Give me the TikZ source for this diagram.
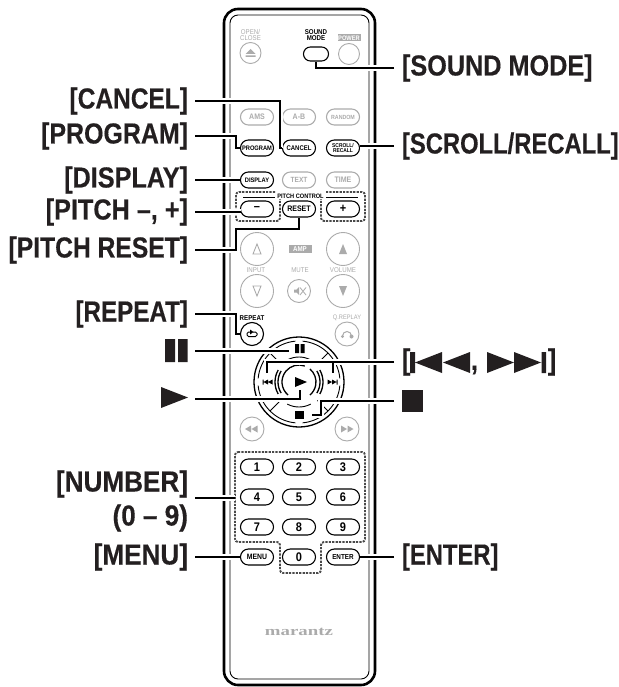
\documentclass[tikz,border=0pt]{standalone}
\usepackage{fontspec}
\setmainfont{Liberation Sans}
\newfontfamily\btnfont[FakeStretch=0.88]{Liberation Sans}
\newfontfamily\logofont[FakeStretch=1.45]{Liberation Serif}
\definecolor{soft}{HTML}{ABABAB}
\definecolor{ink}{HTML}{231F20}
\definecolor{dots}{HTML}{4A4A4A}
\newcommand\fs[1]{\fontsize{#1}{#1}\selectfont}
\newcommand\lf[1]{\fontspec[FakeStretch=#1,FakeBold=0.35]{Liberation Sans}\bfseries\fs{29}}
\tikzset{
  lblL/.style={anchor=east,inner sep=0pt,outer xsep=7pt,text=ink,align=right},
  lblR/.style={anchor=west,inner sep=0pt,outer xsep=8pt,text=ink},
  pill/.style={draw,line width=1.1pt,rounded corners=7.9pt,minimum width=33pt,minimum height=16pt,inner sep=0pt,fill=white,align=center},
  bk/.style={pill,draw=black,text=black,font=\btnfont\bfseries\fs{6.8}},
  dig/.style={pill,draw=black,text=black,font=\btnfont\bfseries\fs{12.5}},
  gr/.style={pill,draw=soft,text=soft,font=\btnfont\bfseries\fs{8}},
  grc/.style={circle,draw=soft,line width=.9pt,inner sep=0pt,fill=white},
  bkc/.style={circle,draw=black,line width=1.1pt,inner sep=0pt,fill=white},
  captxt/.style={inner sep=0pt,text=soft,font=\btnfont\fs{7},align=center},
  captxtb/.style={inner sep=0pt,text=black,font=\btnfont\bfseries\fs{7},align=center,text depth=0pt},
  graytag/.style={fill=soft,text=white,inner sep=0pt,minimum width=23pt,minimum height=7pt,font=\btnfont\bfseries\fs{6.5}},
  leader/.style={draw=black,line width=2.3pt,preaction={draw=white,line width=5.5pt}},
  dotline/.style={draw=dots,line width=1.9pt,dash pattern=on 2.2pt off 1.2pt,rounded corners=3pt},
  ringthin/.style={draw=black,line width=.9pt},
  ringthick/.style={draw=black,line width=1.3pt},
}
\begin{document}
\begin{tikzpicture}[x=1pt,y=-1pt]
\useasboundingbox (0,0) rectangle (618,687);
% body
\draw[black,line width=2.6pt,rounded corners=14pt] (224,9) rectangle (375,685);
\draw[black,line width=.9pt,rounded corners=8pt] (230,15) rectangle (369,679);
% top row
\node[captxt] (topen) at (250.5,35) {OPEN/\\[-.5pt]CLOSE};
\node[grc,minimum size=21pt] (bopen) at (250.5,53) {};
\fill[soft] (245.5,54) -- (255.5,54) -- (250.5,49) -- cycle (245.5,55.5) rectangle (255.5,57);
\node[captxtb] (tsound) at (316,35) {SOUND\\[-.5pt]MODE};
\node[bk,minimum width=25pt,minimum height=14pt,rounded corners=6.9pt] (bsound) at (316,54) {};
\node[graytag] (tpower) at (349,38) {POWER};
\node[grc,minimum size=21pt] (bpower) at (349,54) {};
% rows
\node[gr] (bams) at (257,117) {AMS};
\node[gr] (bab) at (299,117) {A-B};
\node[gr,font=\btnfont\bfseries\fs{6}] (brandom) at (343,117) {RANDOM};
\node[bk,font=\btnfont\bfseries\fs{6.5}] (bprogram) at (257,148) {PROGRAM};
\node[bk] (bcancel) at (299,148) {CANCEL};
\node[bk,font=\btnfont\bfseries\fs{5.6}] (bscroll) at (343,148) {SCROLL/\\[-1pt]RECALL};
\node[bk,font=\btnfont\bfseries\fs{6.5}] (bdisplay) at (257,180) {DISPLAY};
\node[gr,font=\btnfont\bfseries\fs{7.5}] (btext) at (299,180) {TEXT};
\node[gr] (btime) at (343,180) {TIME};
\node[dig] (bminus) at (257,209) {–};
\node[bk,font=\btnfont\bfseries\fs{8}] (breset) at (299,209) {RESET};
\node[dig] (bplus) at (343,209) {+};
% pitch control
\node[captxtb,font=\btnfont\bfseries\fs{6.4}] (tpitch) at (300.5,196) {PITCH CONTROL};
\draw[black,line width=.5pt] (243,197) -- (275,197) (326,197) -- (358,197);
\draw[dotline] (275,192) -- (236,192) -- (236,221) -- (280,221) -- (280,199);
\draw[dotline] (326,192) -- (365,192) -- (365,221) -- (321,221) -- (321,199);
% amp block
\node[grc,minimum size=33pt] (binup) at (257,249) {};
\draw[soft,line width=.9pt] (253,254) -- (261,254) -- (257,244) -- cycle;
\node[graytag,minimum height=8pt,font=\btnfont\bfseries\fs{7}] (tamp) at (300,249) {AMP};
\node[grc,minimum size=33pt] (bvolup) at (343,249) {};
\fill[soft] (339,254) -- (347,254) -- (343,244) -- cycle;
\node[captxt] (tinput) at (256,270) {INPUT};
\node[captxt] (tmute) at (300,270) {MUTE};
\node[captxt] (tvolume) at (343,270) {VOLUME};
\node[grc,minimum size=33pt] (bindn) at (257,291) {};
\draw[soft,line width=.9pt] (253,286) -- (261,286) -- (257,296) -- cycle;
\node[grc,minimum size=23pt] (bmute) at (299,291) {};
\fill[soft] (294,289.5) rectangle (296.5,292.5) (296.5,289.5) -- (299,287) -- (299,295) -- (296.5,292.5) -- cycle;
\draw[soft,line width=.8pt] (300,287.5) -- (306,295) (306,287.5) -- (300,295);
\node[grc,minimum size=33pt] (bvoldn) at (343,291) {};
\fill[soft] (339,286) -- (347,286) -- (343,296) -- cycle;
% repeat row
\node[captxtb] (trepeat) at (252,318) {REPEAT};
\node[bkc,minimum size=23pt] (brepeat) at (252,334) {};
\draw[black,line width=1pt,rounded corners=1.5pt] (250,332) -- (247,332) -- (247,336.5) -- (257,336.5) -- (257,332) -- (253,332);
\fill[black] (250,329.5) -- (253.5,332) -- (250,334.5) -- cycle;
\node[captxt,font=\btnfont\fs{6.5}] (tqreplay) at (347,318) {Q.REPLAY};
\node[grc,minimum size=24pt] (bqreplay) at (347,334) {};
\draw[soft,line width=1pt] (342.5,336) arc[start angle=180,end angle=360,radius=4.5];
\fill[soft] (342.5,336.5) circle[radius=1.7] (351.5,336.5) circle[radius=2];
% dpad
\begin{scope}[shift={(299,382)}]
 \coordinate (dpad) at (0,0);
 \draw[ringthick] (0,0) circle[radius=45];
 \foreach \a in {45,135,225,315} {
   \draw[ringthin] (\a-40:41) arc[start angle=\a-40,end angle=\a+40,radius=41];
   \draw[ringthin] (\a:41) -- (\a:26);
 }
 \foreach \a in {0,180} {
   \draw[ringthick] (\a-30:24) arc[start angle=\a-30,end angle=\a+30,radius=24];
   \draw[ringthick] (\a-32:21) arc[start angle=\a-32,end angle=\a+32,radius=21];
 }
 \foreach \a in {90,270} {
   \draw[ringthin] (\a-28:25) arc[start angle=\a-28,end angle=\a+28,radius=25];
 }
 \draw[ringthick] (0-50:17) arc[start angle=-50,end angle=50,radius=17];
 \draw[ringthick] (130:17) arc[start angle=130,end angle=290,radius=17];
 \fill[black] (-4,-5) -- (8,0) -- (-4,5) -- cycle;
 \fill[black] (-4,-38) rectangle (0,-29) (1.5,-38) rectangle (5.5,-29);
 \fill[black] (-4,29) rectangle (5,37);
 \fill[black] (-36.5,-2.5) rectangle (-35.5,2.5) (-35.5,0) -- (-31,-2.5) -- (-31,2.5) -- cycle (-31,0) -- (-26.5,-2.5) -- (-26.5,2.5) -- cycle;
 \fill[black] (38.5,-2.5) rectangle (37.5,2.5) (37.5,0) -- (33,-2.5) -- (33,2.5) -- cycle (33,0) -- (28.5,-2.5) -- (28.5,2.5) -- cycle;
\end{scope}
% rew ff
\node[grc,minimum size=24pt] (brew) at (252,429) {};
\fill[soft] (245,429) -- (251,425.5) -- (251,432.5) -- cycle (251.5,429) -- (257.5,425.5) -- (257.5,432.5) -- cycle;
\node[grc,minimum size=24pt] (bff) at (347,429) {};
\fill[soft] (353.5,429) -- (347.5,425.5) -- (347.5,432.5) -- cycle (347,429) -- (341,425.5) -- (341,432.5) -- cycle;
% number pad
\node[dig] (bn1) at (257,467) {1};
\node[dig] (bn2) at (299,467) {2};
\node[dig] (bn3) at (343,467) {3};
\node[dig] (bn4) at (257,497) {4};
\node[dig] (bn5) at (299,497) {5};
\node[dig] (bn6) at (343,497) {6};
\node[dig] (bn7) at (257,527) {7};
\node[dig] (bn8) at (299,527) {8};
\node[dig] (bn9) at (343,527) {9};
\node[bk,font=\btnfont\bfseries\fs{7.8}] (bmenu) at (257,557) {MENU};
\node[dig] (bn0) at (299,557) {0};
\node[bk,font=\btnfont\bfseries\fs{7.2}] (benter) at (343,557) {ENTER};
\draw[dotline] (235,452) -- (365,452) -- (365,542) -- (321,542) -- (321,573) -- (280,573) -- (280,542) -- (235,542) -- cycle;
\node[inner sep=0pt,text=soft,font=\logofont\bfseries\fs{13}] (tlogo) at (299,632) {marantz};
% labels left
\node[lblL,font=\lf{.845}] (lcancel) at (195,101) {[CANCEL]};
\node[lblL,font=\lf{.86}] (lprogram) at (195,136) {[PROGRAM]};
\node[lblL,font=\lf{.87}] (ldisplay) at (195,180) {[DISPLAY]};
\node[lblL,font=\lf{.87}] (lpitch) at (195,212) {[PITCH –, +]};
\node[lblL,font=\lf{.85}] (lreset) at (195,250) {[PITCH RESET]};
\node[lblL,font=\lf{.835}] (lrepeat) at (195,314) {[REPEAT]};
\node[lblL,font=\lf{.9},execute at begin node={\setlength{\baselineskip}{34pt}}] (lnumber) at (195,501) {[NUMBER]\\(0 – 9)};
\node[lblL,font=\lf{.9}] (lmenu) at (195,557) {[MENU]};
% labels right
\node[lblR,font=\lf{.87}] (lsound) at (394,68) {[SOUND MODE]};
\node[lblR,font=\lf{.82}] (lscroll) at (394,146) {[SCROLL/RECALL]};
\node[lblR,font=\lf{.82}] (lenter) at (394,557) {[ENTER]};
\node[lblR,font=\lf{.86}] (lskip) at (394,362) {[};
\fill[ink] (410,352) rectangle (415,373) (415,362.5) -- (442,352) -- (442,373) -- cycle (443,362.5) -- (470,352) -- (470,373) -- cycle;
\node[inner sep=0pt,text=ink,font=\lf{.86}] (lcomma) at (474.5,370) {,};
\fill[ink] (487,352) -- (514,362.5) -- (487,373) -- cycle (514,352) -- (541,362.5) -- (514,373) -- cycle (541.5,352) rectangle (546,373);
\node[inner sep=0pt,text=ink,font=\lf{.86}] (lskipend) at (552,362) {]};
% glyph labels
\fill[ink] (165,339) rectangle (175,362) (178,339) rectangle (187.5,362);
\fill[ink] (161,387) -- (188,397.5) -- (161,408) -- cycle;
\fill[ink] (402,390) rectangle (423,412);
% connector ends
\coordinate (lpause) at (195,351);
\coordinate (lplay) at (195,399);
\coordinate (lstop) at (394,401);
\coordinate (epause) at (289,351);
\coordinate (eplay) at (300,390);
\coordinate (estop) at (312,415);
\coordinate (cstop) at (321,401);
\coordinate (eprev) at (267,373);
\coordinate (enext) at (333,373);
\coordinate (cprev) at (267,363);
\coordinate (cnext) at (333,363);
\coordinate (numbox) at (235,498);
\coordinate (cprog) at (236,136);
\coordinate (ccancel) at (280,101);
\coordinate (csound) at (316,68);
\coordinate (creset) at (236,229);
\coordinate (cresetb) at (299,229);
\coordinate (crepeat) at (236,314);
\coordinate (eminus) at (240.5,212);
% connectors
\draw[leader] (lcancel.east) -- (ccancel) |- (bcancel.west);
\draw[leader] (lprogram.east) -- (cprog) |- (bprogram.west);
\draw[leader] (ldisplay.east) -- (bdisplay.west);
\draw[leader] (lpitch.east) -- (eminus);
\draw[leader] (lreset.east) -| (creset) -- (cresetb) -- (breset.south);
\draw[leader] (lrepeat.east) -- (crepeat) |- (brepeat.west);
\draw[leader] (lnumber.east|-numbox) -- (numbox);
\draw[leader] (lmenu.east) -- (bmenu.west);
\draw[leader] (lsound.west) -- (csound) -- (bsound.south);
\draw[leader] (lscroll.west) -- (bscroll.east|-lscroll.west);
\draw[leader] (lenter.west) -- (benter.east);
\draw[leader] (lpause) -- (epause);
\draw[leader] (lplay) -| (eplay);
\draw[leader] (lstop) -- (cstop) |- (estop);
\draw[leader] (lskip.west) -- (lskip.west-|cprev) -- (eprev);
\draw[leader] (cnext) -- (enext);
\end{tikzpicture}
\end{document}
